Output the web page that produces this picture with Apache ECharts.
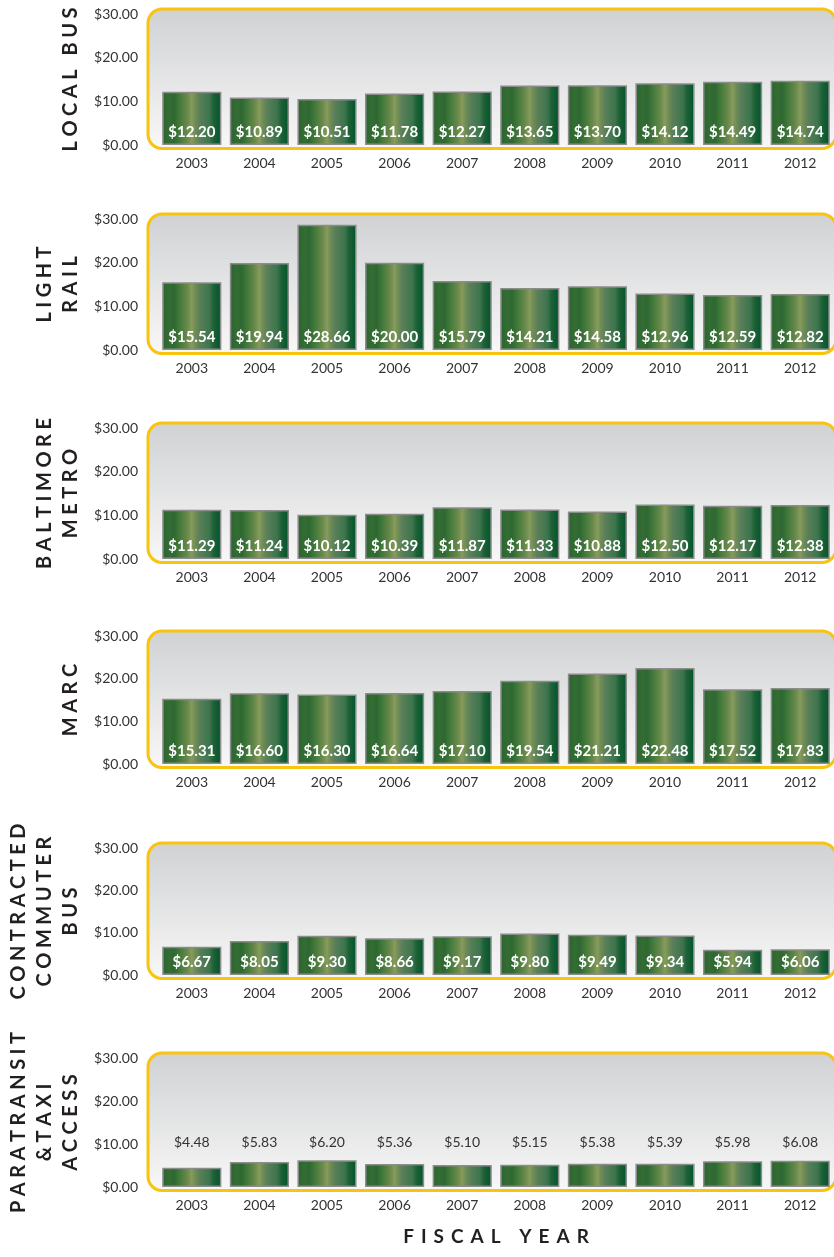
<!DOCTYPE html>
<html>
<head>
<meta charset="utf-8">
<script src="https://cdn.jsdelivr.net/npm/echarts@6/dist/echarts.min.js"></script>
<style>
  html, body { margin: 0; padding: 0; background: #ffffff; }
  #chart { width: 834px; height: 1257px; }
</style>
</head>
<body>
<div id="chart"></div>
<script>
// Fiscal years shown on every panel
const years = ['2003', '2004', '2005', '2006', '2007', '2008', '2009', '2010', '2011', '2012'];

// Cost per passenger trip, by mode (dollars)
const localBus       = [12.20, 10.89, 10.51, 11.78, 12.27, 13.65, 13.70, 14.12, 14.49, 14.74];
const lightRail      = [15.54, 19.94, 28.66, 20.00, 15.79, 14.21, 14.58, 12.96, 12.59, 12.82];
const baltimoreMetro = [11.29, 11.24, 10.12, 10.39, 11.87, 11.33, 10.88, 12.50, 12.17, 12.38];
const marc           = [15.31, 16.60, 16.30, 16.64, 17.10, 19.54, 21.21, 22.48, 17.52, 17.83];
const commuterBus    = [6.67, 8.05, 9.30, 8.66, 9.17, 9.80, 9.49, 9.34, 5.94, 6.06];
const paratransit    = [4.48, 5.83, 6.20, 5.36, 5.10, 5.15, 5.38, 5.39, 5.98, 6.08];

// Panel titles (one entry per line of the rotated title)
const localBusTitle       = ['LOCAL BUS'];
const lightRailTitle      = ['LIGHT', 'RAIL'];
const baltimoreMetroTitle = ['BALTIMORE', 'METRO'];
const marcTitle           = ['MARC'];
const commuterBusTitle    = ['CONTRACTED', 'COMMUTER', 'BUS'];
const paratransitTitle    = ['PARATRANSIT', '&TAXI', 'ACCESS'];

// Value axis
const yMin = 0, yMax = 30, yStep = 10;
const xAxisTitle = 'FISCAL YEAR';

// Panel layout: plot top / baseline in pixels
const panels = [
  { data: localBus,       title: localBusTitle,       top: 14,   bottom: 145,  inside: true },
  { data: lightRail,      title: lightRailTitle,      top: 219,  bottom: 350,  inside: true },
  { data: baltimoreMetro, title: baltimoreMetroTitle, top: 428,  bottom: 559,  inside: true },
  { data: marc,           title: marcTitle,           top: 636,  bottom: 764,  inside: true },
  { data: commuterBus,    title: commuterBusTitle,    top: 848,  bottom: 975,  inside: true },
  { data: paratransit,    title: paratransitTitle,    top: 1058, bottom: 1187, inside: false }
];

const GRID_LEFT = 158;
const FONT = 'Lato, "Open Sans", sans-serif';
const TEXT_COLOR = '#333333';
const TITLE_COLOR = '#231f20';

const barFill = new echarts.graphic.LinearGradient(0, 0, 1, 0, [
  { offset: 0.00, color: '#2b6430' },
  { offset: 0.12, color: '#336d33' },
  { offset: 0.20, color: '#2e6832' },
  { offset: 0.30, color: '#447a3b' },
  { offset: 0.42, color: '#68894b' },
  { offset: 0.50, color: '#879b5c' },
  { offset: 0.56, color: '#6f8c55' },
  { offset: 0.63, color: '#5a7f5a' },
  { offset: 0.72, color: '#4a7a52' },
  { offset: 0.80, color: '#3d744e' },
  { offset: 0.87, color: '#1d6135' },
  { offset: 1.00, color: '#00542c' }
]);

const money = v => '$' + Number(v).toFixed(2);

// Letter-spaced text, laid out one glyph at a time
const measureCtx = document.createElement('canvas').getContext('2d');
function spacedGlyphs(text, font, spacing) {
  measureCtx.font = font;
  const chars = Array.from(text);
  const out = [];
  let pos = 0;
  chars.forEach((ch, i) => {
    out.push({ ch, pos });
    pos += measureCtx.measureText(ch).width + (i < chars.length - 1 ? spacing : 0);
  });
  return { glyphs: out, length: pos };
}

const TITLE_SIZE = 20, TITLE_SPACING = 4.5;
const TITLE_FONT_CSS = 'bold ' + TITLE_SIZE + 'px Lato';
const LINE_GAP = 26, LAST_LINE_X = 71;

const graphics = [];

panels.forEach(p => {
  // rounded panel frame
  graphics.push({
    type: 'rect', z: -10, silent: true,
    shape: { x: 148, y: p.top - 5, width: 688, height: p.bottom - p.top + 8.5, r: 14 },
    style: {
      fill: new echarts.graphic.LinearGradient(0, 0, 0, 1, [
        { offset: 0, color: '#d0d1d3' },
        { offset: 1, color: '#f8f8f8' }
      ]),
      stroke: '#f9c40f',
      lineWidth: 3
    }
  });

  // rotated, letter-spaced title
  const centerY = (p.top + p.bottom) / 2;
  const n = p.title.length;
  p.title.forEach((line, li) => {
    const x = LAST_LINE_X - (n - 1 - li) * LINE_GAP;
    const g = spacedGlyphs(line, TITLE_FONT_CSS, TITLE_SPACING);
    const startY = centerY + g.length / 2;
    g.glyphs.forEach(gl => {
      graphics.push({
        type: 'text', silent: true,
        x: x, y: startY - gl.pos, rotation: Math.PI / 2,
        style: {
          text: gl.ch, fill: TITLE_COLOR, fontFamily: 'Lato', fontWeight: 'bold',
          fontSize: TITLE_SIZE, align: 'left', verticalAlign: 'middle'
        }
      });
    });
  });
});

// axis title under the last panel
(function () {
  const size = 19, spacing = 7;
  const g = spacedGlyphs(xAxisTitle, 'bold ' + size + 'px Lato', spacing);
  const cx = GRID_LEFT + (834 - GRID_LEFT) / 2;
  const startX = cx - g.length / 2;
  g.glyphs.forEach(gl => {
    graphics.push({
      type: 'text', silent: true,
      x: startX + gl.pos, y: 1237,
      style: {
        text: gl.ch, fill: TITLE_COLOR, fontFamily: 'Lato', fontWeight: 'bold',
        fontSize: size, align: 'left', verticalAlign: 'middle'
      }
    });
  });
})();

const option = {
  animation: false,
  backgroundColor: '#ffffff',
  grid: panels.map(p => ({
    left: GRID_LEFT, right: 0, top: p.top, height: p.bottom - p.top,
    containLabel: false
  })),
  xAxis: panels.map((p, i) => ({
    type: 'category', gridIndex: i, data: years,
    axisLine: { show: false }, axisTick: { show: false }, splitLine: { show: false },
    axisLabel: { color: TEXT_COLOR, fontFamily: FONT, fontSize: 14, margin: 11 }
  })),
  yAxis: panels.map((p, i) => ({
    type: 'value', gridIndex: i, min: yMin, max: yMax, interval: yStep,
    axisLine: { show: false }, axisTick: { show: false }, splitLine: { show: false },
    axisLabel: { color: TEXT_COLOR, fontFamily: FONT, fontSize: 14, margin: 20, formatter: money }
  })),
  series: panels.map((p, i) => ({
    type: 'bar', xAxisIndex: i, yAxisIndex: i, data: p.data,
    barCategoryGap: '12.5%',
    itemStyle: { color: barFill, borderColor: '#8c8c8c', borderWidth: 1.5 },
    label: p.inside ? {
      show: true, position: 'insideBottom', distance: 5, formatter: d => money(d.value),
      color: '#ffffff', fontFamily: FONT, fontWeight: 'bold', fontSize: 15
    } : {
      show: true, position: 'insideBottom', distance: 38, formatter: d => money(d.value),
      color: TEXT_COLOR, fontFamily: FONT, fontWeight: 'normal', fontSize: 14
    }
  })),
  graphic: { elements: graphics }
};

const chart = echarts.init(document.getElementById('chart'));
chart.setOption(option);
</script>
</body>
</html>
